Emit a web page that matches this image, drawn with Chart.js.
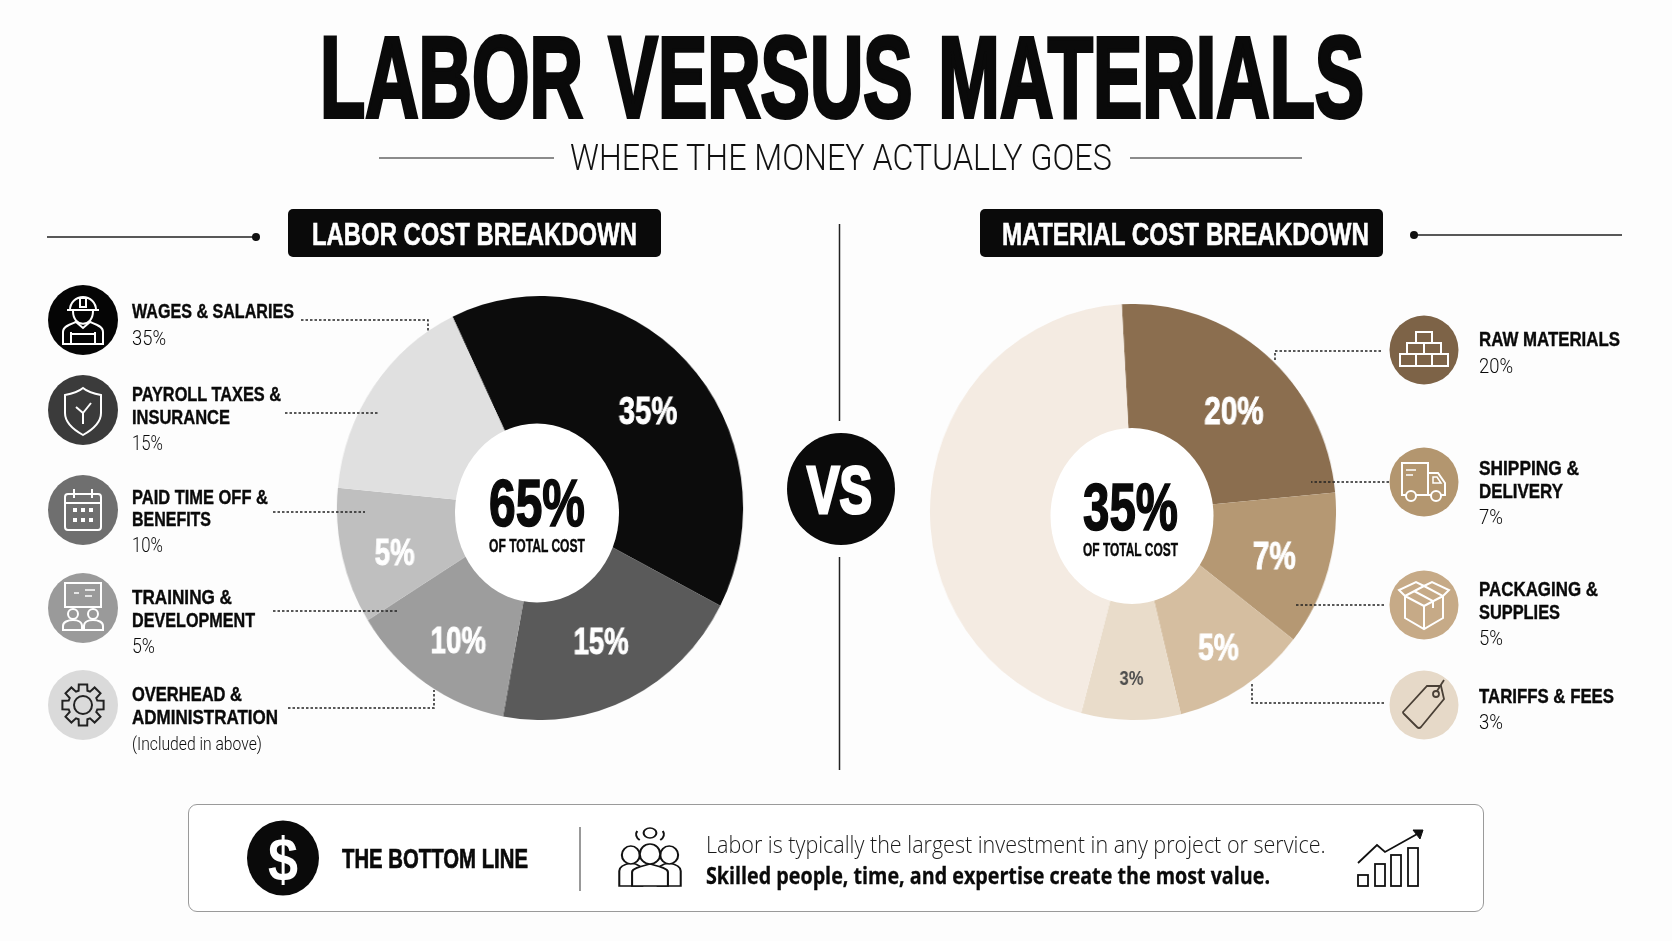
<!DOCTYPE html>
<html>
<head>
<meta charset="utf-8">
<title>Labor versus materials</title>
<script src="https://cdn.jsdelivr.net/npm/chart.js@4"></script>
<style>
html, body { margin: 0; padding: 0; background: #fdfdfd; }
#page { position: relative; width: 1672px; height: 941px; overflow: hidden; background: #fdfdfd; color: #0a0a0a; }
.ring { position: absolute; }
#lines { position: absolute; left: 0; top: 0; }
.t { position: absolute; white-space: nowrap; line-height: 1; transform-origin: left center;
     font-family: "Liberation Sans Narrow", "Liberation Sans", sans-serif; }
.box { position: absolute; background: #0a0a0a; border-radius: 5px; }
.panel { position: absolute; border: 1.5px solid #9a9a9a; border-radius: 9px; background: #fff; box-sizing: border-box; }
</style>
</head>
<body>
<div id="page">
  <div class="box" style="left:288px;top:209px;width:373px;height:48px"></div>
  <div class="box" style="left:980px;top:209px;width:403px;height:48px"></div>
  <div class="panel" style="left:188px;top:804px;width:1296px;height:108px"></div>
  <div class="ring" style="left:328px;top:295.5px;width:424px;height:424px;transform:scaleX(0.958)"><canvas id="laborChart" width="424" height="424"></canvas></div>
  <div class="ring" style="left:925px;top:304px;width:416px;height:416px;transform:scaleX(0.976)"><canvas id="materialChart" width="416" height="416"></canvas></div>
  <svg id="lines" width="1672" height="941" viewBox="0 0 1672 941" fill="none">
    <ellipse cx="537" cy="513" rx="82" ry="89.5" fill="#fff"/>
    <ellipse cx="1132" cy="516" rx="81.5" ry="88" fill="#fff"/>

    <path d="M379 158H554M1130 158H1302" stroke="#666" stroke-width="1.5"/>
    <path d="M47 237H256M1414 235H1622" stroke="#222" stroke-width="1.5"/>
    <circle cx="256" cy="237" r="4" fill="#111"/>
    <circle cx="1414" cy="235" r="4" fill="#111"/>
    <path d="M839.5 224V421M839.5 557V770" stroke="#222" stroke-width="1.5"/>
    <ellipse cx="841" cy="489" rx="54" ry="56" fill="#0a0a0a"/>
    <path d="M580 827V891" stroke="#777" stroke-width="1.5"/>
    <ellipse cx="283" cy="858" rx="36" ry="37.5" fill="#0a0a0a"/>

    <g stroke="#222" stroke-width="1.5" stroke-dasharray="2.5 2">
      <path d="M301 320H428V332"/>
      <path d="M285 413H379"/>
      <path d="M273 512H365"/>
      <path d="M273 611H398"/>
      <path d="M288 708H434V690"/>
      <path d="M1381 351H1275V362"/>
      <path d="M1389 482H1311"/>
      <path d="M1384 605H1295"/>
      <path d="M1384 703H1252V682"/>
    </g>

    <!-- left icons -->
    <circle cx="83" cy="320" r="35" fill="#050505"/>
    <g transform="translate(83,320)" stroke="#fff" stroke-width="2">
      <path d="M-13 -10a13 13 0 0 1 26 0zM-16 -10H16M-3 -22H3V-13H-3z"/>
      <path d="M-10 -9C-10 8 10 8 10 -9"/>
      <path d="M-20 24V12C-20 6 -12 4 -7 2L0 8L7 2C12 4 20 6 20 12V24ZM-12 24V12M12 24V12M-12 14H12"/>
    </g>
    <circle cx="83" cy="410" r="35" fill="#3b3b3b"/>
    <g transform="translate(83,410)" stroke="#fff" stroke-width="2">
      <path d="M0 -22C6 -17 12 -16 18 -15V3C18 13 9 20 0 25C-9 20 -18 13 -18 3V-15C-12 -16 -6 -17 0 -22Z"/>
      <path d="M0 14V3L-7 -3M0 3L8 -7"/>
    </g>
    <circle cx="83" cy="510" r="35" fill="#6f6f6f"/>
    <g transform="translate(83,510)" stroke="#fff" stroke-width="2">
      <rect x="-18" y="-16" width="36" height="36" rx="3"/>
      <path d="M-18 -7H18M-9 -21V-12M9 -21V-12"/>
      <path d="M-10 0H-6M-2 0H2M6 0H10M-10 10H-6M-2 10H2M6 10H10" stroke-width="4"/>
    </g>
    <circle cx="83" cy="608" r="35" fill="#9a9a9a"/>
    <g transform="translate(83,608)" stroke="#fff" stroke-width="2">
      <rect x="-18" y="-25" width="36" height="24"/>
      <path d="M-9 -15H-4M2 -18H12M2 -12H9" stroke-width="1.5"/>
      <circle cx="-10" cy="6" r="5"/><circle cx="10" cy="6" r="5"/>
      <path d="M-20 22V18C-20 14 -15 12 -10 12C-5 12 -1 14 -1 18V22ZM1 22V18C1 14 5 12 10 12C15 12 20 14 20 18V22Z"/>
    </g>
    <circle cx="83" cy="705" r="35" fill="#dadada"/>
    <g transform="translate(83,705)" stroke="#222" stroke-width="2">
      <path id="gear"/>
      <circle r="9"/>
    </g>

    <!-- right icons -->
    <circle cx="1424" cy="350" r="34.5" fill="#7d6347"/>
    <g transform="translate(1424,350)" stroke="#fff" stroke-width="2">
      <rect x="-8" y="-18" width="16" height="11"/>
      <rect x="-17" y="-7" width="17" height="11"/><rect x="0" y="-7" width="17" height="11"/>
      <rect x="-24" y="4" width="16" height="12"/><rect x="-8" y="4" width="16" height="12"/><rect x="8" y="4" width="16" height="12"/>
    </g>
    <circle cx="1424" cy="482" r="34.5" fill="#b3966f"/>
    <g transform="translate(1424,482)" stroke="#fff" stroke-width="2">
      <path d="M-18 13H-22V-19H4V13H-8M4 -9H14L21 1V13H17M4 13H7"/>
      <circle cx="-13" cy="14" r="5"/><circle cx="12" cy="14" r="5"/>
      <path d="M9 -5H13L17 1H9Z" stroke-width="1.5"/>
      <path d="M-18 -12H-8M-18 -7H-11" stroke-width="1.5"/>
    </g>
    <circle cx="1424" cy="605" r="34.5" fill="#c6aa87"/>
    <g transform="translate(1424,605)" stroke="#fff" stroke-width="2">
      <path d="M-19 -9L0 -19L19 -9V13L0 24L-19 13ZM-19 -9L0 1L19 -9M0 1V24"/>
      <path d="M-10 -14L9 -4V3M-19 -9L-25 -15L-8 -23L0 -19M19 -9L25 -15L8 -23L0 -19"/>
    </g>
    <circle cx="1424" cy="705" r="34.5" fill="#e6d9c8"/>
    <g transform="translate(1424,705)" stroke="#4a4036" stroke-width="1.8">
      <path d="M-20 6L3 -19L17 -19L20 -6L-3 22Q-5 24 -7 22L-20 9Q-22 7 -20 6Z"/>
      <circle cx="12" cy="-11" r="3"/>
      <path d="M13 -14L20 -25"/>
    </g>

    <!-- bottom line icons -->
    <g transform="translate(650,858) scale(1.28,1)" stroke="#111" stroke-width="1.6" fill="#fff">
      <path d="M-24 28V13C-24 8 -19 6 -15 5C-10 6 -6 8 -6 13V28Z"/>
      <path d="M24 28V13C24 8 19 6 15 5C10 6 6 8 6 13V28Z"/>
      <ellipse cx="-15" cy="-3" rx="7" ry="9"/><ellipse cx="15" cy="-3" rx="7" ry="9"/>
      <path d="M-14 28V14C-14 10 -6 8 0 6C6 8 14 10 14 14V28Z"/>
      <ellipse cx="0" cy="-4" rx="8" ry="10"/>
      <path d="M-8 -18A7 7 0 0 1 -10 -27M8 -18A7 7 0 0 0 10 -27" fill="none"/>
      <ellipse cx="0" cy="-25" rx="5" ry="5" fill="none"/>
    </g>
    <g transform="translate(1391,858)" stroke="#111" stroke-width="1.8">
      <rect x="-33" y="17" width="10" height="11"/>
      <rect x="-16" y="6" width="10" height="22"/>
      <rect x="0" y="-3" width="10" height="31"/>
      <rect x="17" y="-10" width="10" height="38"/>
      <path d="M-33 5L-14 -13L-6 -6L28 -25"/>
      <path d="M22 -28H32L29 -19Z" fill="#111" stroke-width="1"/>
    </g>
  </svg>
</div>
<script>
// shares of each ring
const laborCategories = ['Wages & salaries', 'Payroll taxes & insurance', 'Paid time off & benefits', 'Training & development', 'Overhead & administration'];
const laborShares = [39.7, 20.3, 13.2, 10.4, 16.4];
const laborPrinted = ['35%', '15%', '10%', '5%', ''];
const laborColors = ['#0c0c0c', '#5a5a5a', '#9d9d9d', '#bfbfbf', '#e0e0e0'];

const materialCategories = ['Raw materials', 'Shipping & delivery', 'Packaging & supplies', 'Tariffs & fees', 'Rest of total cost'];
const materialShares = [24.4, 12.0, 10.7, 7.9, 45.0];
const materialPrinted = ['20%', '7%', '5%', '3%', ''];
const materialColors = ['#8b6e4f', '#b59873', '#d5bea0', '#e9dcca', '#f4ebe2'];

const narrow = '"Liberation Sans Narrow", "Liberation Sans", sans-serif';

// prints the shown percent on each slice
const sliceText = {
    id: 'sliceText',
    afterDatasetsDraw(chart) {
        const ctx = chart.ctx;
        const ds = chart.data.datasets[0];
        chart.getDatasetMeta(0).data.forEach((arc, i) => {
            if (!ds.printed[i]) return;
            const mid = (arc.startAngle + arc.endAngle) / 2;
            const r = arc.outerRadius * 0.74;
            ctx.save();
            ctx.translate(arc.x + Math.cos(mid) * r + ds.printedNudge[i][0], arc.y + Math.sin(mid) * r + ds.printedNudge[i][1]);
            ctx.scale(0.8, 1);
            ctx.fillStyle = ds.printedColor[i];
            ctx.strokeStyle = ds.printedColor[i];
            ctx.lineWidth = 1;
            ctx.font = 'bold ' + ds.printedSize[i] + 'px ' + narrow;
            ctx.textAlign = 'center';
            ctx.textBaseline = 'middle';
            ctx.fillText(ds.printed[i], 0, 0);
            if (ds.printedSize[i] > 30) ctx.strokeText(ds.printed[i], 0, 0);
            ctx.restore();
        });
    }
};

function ring(id, labels, values, colors, printed, rotation, printedColor, printedSize, printedNudge) {
    new Chart(document.getElementById(id), {
        type: 'doughnut',
        data: {
            labels: labels,
            datasets: [{
                data: values,
                backgroundColor: colors,
                borderWidth: 0,
                printed: printed,
                printedColor: printedColor,
                printedSize: printedSize,
                printedNudge: printedNudge
            }]
        },
        options: {
            responsive: false,
            animation: false,
            cutout: '36%',
            rotation: rotation,
            plugins: { legend: { display: false }, tooltip: { enabled: false } }
        },
        plugins: [sliceText]
    });
}

ring('laborChart', laborCategories, laborShares, laborColors, laborPrinted, -25.5,
    ['#fff', '#fff', '#fff', '#fff', '#fff'], [38, 36, 36, 36, 36],
    [[0, 15], [-5, -5], [3, 5], [1, 11], [0, 0]]);
ring('materialChart', materialCategories, materialShares, materialColors, materialPrinted, -3.2,
    ['#fff', '#fff', '#fff', '#4d4d4d', '#fff'], [38, 38, 36, 21, 21],
    [[3, 18], [-3, 3], [4, 9], [0, 13], [0, 0]]);

// gear outline for the overhead icon
let gear = '';
for (let i = 0; i < 8; i++) {
    const a = i * Math.PI / 4;
    [[-0.3, 15], [-0.2, 21], [0.2, 21], [0.3, 15]].forEach(p => {
        gear += (gear ? 'L' : 'M') + (Math.cos(a + p[0]) * p[1]).toFixed(1) + ' ' + (Math.sin(a + p[0]) * p[1]).toFixed(1);
    });
}
document.getElementById('gear').setAttribute('d', gear + 'Z');

// text, left x, centre y, font size, width in the picture, extra css
function put(text, x, y, size, width, css) {
    const el = document.createElement('div');
    el.className = 't';
    el.textContent = text;
    el.style.cssText = 'left:' + x + 'px;top:' + y + 'px;font-size:' + size + 'px;' + (css || '');
    document.getElementById('page').appendChild(el);
    const k = width / el.getBoundingClientRect().width;
    el.style.transform = 'translateY(-50%) scaleX(' + k.toFixed(3) + ')';
}

const bold = 'font-weight:700;-webkit-text-stroke:0.4px #0a0a0a;';
const whiteBold = 'font-weight:700;color:#fff;-webkit-text-stroke:0.6px #fff;';
const light = 'font-family:Roboto,"Open Sans",sans-serif;font-weight:300;';
const open = 'font-family:"Open Sans","Noto Sans",sans-serif;';

put('LABOR VERSUS MATERIALS', 320, 77, 115, 1045, 'font-weight:700;word-spacing:8px;-webkit-text-stroke:4px #0a0a0a;');
put('WHERE THE MONEY ACTUALLY GOES', 570, 157, 37, 542, light + 'color:#111;');
put('LABOR COST BREAKDOWN', 312, 234, 32, 325, whiteBold);
put('MATERIAL COST BREAKDOWN', 1002, 234, 32, 367, whiteBold);
put('VS', 807, 490, 66, 65, whiteBold + '-webkit-text-stroke:3px #fff;');

put('WAGES & SALARIES', 132, 311, 20, 162, bold);
put(laborPrinted[0], 132, 338, 21, 34, light);
put('PAYROLL TAXES &', 132, 394, 20, 149, bold);
put('INSURANCE', 132, 417, 20, 98, bold);
put(laborPrinted[1], 132, 443, 21, 31, light);
put('PAID TIME OFF &', 132, 497, 20, 136, bold);
put('BENEFITS', 132, 519, 20, 79, bold);
put(laborPrinted[2], 132, 545, 21, 31, light);
put('TRAINING &', 132, 597, 20, 100, bold);
put('DEVELOPMENT', 132, 620, 20, 123, bold);
put(laborPrinted[3], 132, 646, 21, 23, light);
put('OVERHEAD &', 132, 694, 20, 110, bold);
put('ADMINISTRATION', 132, 717, 20, 146, bold);
put('(Included in above)', 132, 744, 18, 130, light);

put('RAW MATERIALS', 1479, 339, 20, 141, bold);
put(materialPrinted[0], 1479, 366, 21, 34, light);
put('SHIPPING &', 1479, 468, 20, 100, bold);
put('DELIVERY', 1479, 491, 20, 84, bold);
put(materialPrinted[1], 1479, 517, 21, 24, light);
put('PACKAGING &', 1479, 589, 20, 119, bold);
put('SUPPLIES', 1479, 612, 20, 81, bold);
put(materialPrinted[2], 1479, 638, 21, 24, light);
put('TARIFFS & FEES', 1479, 696, 20, 135, bold);
put(materialPrinted[3], 1479, 722, 21, 24, light);

put('65%', 489, 503, 66, 96, 'font-weight:700;-webkit-text-stroke:1.6px #0a0a0a;');
put('OF TOTAL COST', 489, 546, 18, 96, bold);
put('35%', 1083, 507, 66, 95, 'font-weight:700;-webkit-text-stroke:1.6px #0a0a0a;');
put('OF TOTAL COST', 1083, 550, 18, 95, bold);

put('$', 268, 859, 62, 30, 'font-weight:700;color:#fff;');
put('THE BOTTOM LINE', 342, 859, 28, 186, 'font-weight:700;-webkit-text-stroke:0.7px #0a0a0a;');
put('Labor is typically the largest investment in any project or service.', 706, 844, 24, 620, light + 'font-family:"Open Sans";color:#1a1a1a;');
put('Skilled people, time, and expertise create the most value.', 706, 875, 24, 564, open + 'font-weight:700;-webkit-text-stroke:0.3px #0a0a0a;');
</script>
</body>
</html>
